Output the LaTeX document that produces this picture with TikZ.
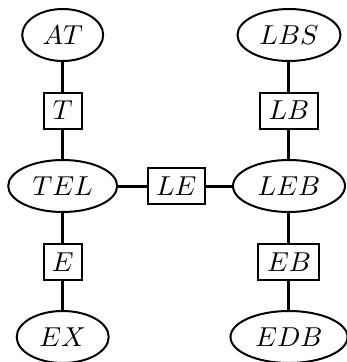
\documentclass[tikz,border=0pt]{standalone}
\usetikzlibrary{shapes.geometric}
\begin{document}
\begin{tikzpicture}[x=0.4pt,y=-0.4pt,
  every node/.style={font=\fontsize{10.95}{13}\selectfont},
  ell/.style={draw,ellipse,line width=0.8pt,minimum height=20.8pt,inner sep=0.5pt},
  box/.style={draw,rectangle,line width=0.8pt,minimum height=14.4pt,minimum width=15.2pt,inner sep=2pt},
  conn/.style={line width=1.2pt}]
\useasboundingbox (0,0) rectangle (347,362);
\node[ell,minimum width=32.4pt] (AT) at (62.7,35) {$AT$};
\node[box] (T) at (62.7,110.5) {$T$};
\node[ell,minimum width=43.6pt] (TEL) at (62.7,186) {$TEL$};
\node[box] (E) at (62.7,261.7) {$E$};
\node[ell,minimum width=36.8pt] (EX) at (62.7,337) {$EX$};
\node[ell,minimum width=41.2pt] (LBS) at (289,35) {$LBS$};
\node[box,minimum width=23.2pt] (LB) at (289,110.5) {$LB$};
\node[box,minimum width=22.8pt] (LE) at (176.3,186) {$LE$};
\node[ell,minimum width=44.8pt] (LEB) at (289,186) {$LEB$};
\node[box,minimum width=24.4pt] (EB) at (289,261.7) {$EB$};
\node[ell,minimum width=46.8pt] (EDB) at (289,337) {$EDB$};
\draw[conn] (AT) -- (T);
\draw[conn] (T) -- (TEL);
\draw[conn] (TEL) -- (E);
\draw[conn] (E) -- (EX);
\draw[conn] (LBS) -- (LB);
\draw[conn] (LB) -- (LEB);
\draw[conn] (LEB) -- (EB);
\draw[conn] (EB) -- (EDB);
\draw[conn] (TEL) -- (LE);
\draw[conn] (LE) -- (LEB);
\end{tikzpicture}
\end{document}
